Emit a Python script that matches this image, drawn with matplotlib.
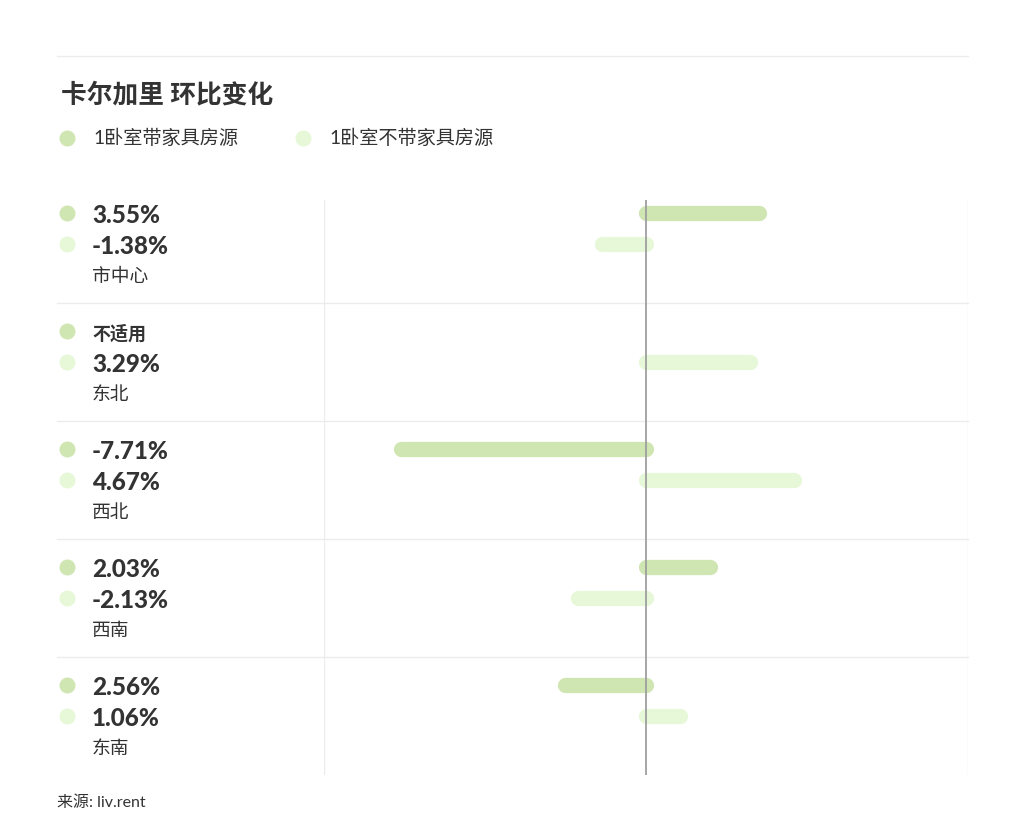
import matplotlib.pyplot as plt
from matplotlib.transforms import blended_transform_factory

plt.rcParams['font.family'] = ['Lato', 'Noto Sans CJK SC', 'DejaVu Sans']

# data
regions = ['市中心', '东北', '西北', '西南', '东南']
series_names = ['1卧室带家具房源', '1卧室不带家具房源']
furnished = [3.55, None, -7.71, 2.03, -2.56]
unfurnished = [-1.38, 3.29, 4.67, -2.13, 1.06]
furnished_labels = ['3.55%', '不适用', '-7.71%', '2.03%', '2.56%']
unfurnished_labels = ['-1.38%', '3.29%', '4.67%', '-2.13%', '1.06%']
colors = ['#d0e6b2', '#e6f8d8']
text_color = '#333333'
grid_color = '#ececec'

W, H = 1024, 836
fig = plt.figure(figsize=(W / 100, H / 100), dpi=100)

# chart area in pixels: x 324..968, y 200..775
ax = fig.add_axes([324 / W, 1 - 775 / H, (968 - 324) / W, (775 - 200) / H])
ax.set_xlim(-10.15, 10.15)
ax.set_ylim(4.763, -0.11)
ax.axis('off')

gap = 31 / 118  # offset of second bar within a row

for i in range(len(regions)):
    vals = [furnished[i], unfurnished[i]]
    for j, v in enumerate(vals):
        if v is None:
            continue
        y = i + j * gap
        ax.plot([0, v], [y, y], color=colors[j], lw=11,
                solid_capstyle='round', zorder=2)

# zero line
ax.axvline(0, color='#9f9f9f', lw=1.3, zorder=3)
# vertical borders
ax.axvline(-10.15, color=grid_color, lw=1, zorder=1)
ax.axvline(10.15, color=grid_color, lw=1, zorder=1)

# row separators, extending into the label area
tr = blended_transform_factory(fig.transFigure, ax.transData)
for i in range(len(regions) - 1):
    yy = i + 0.763
    ax.plot([57 / W, 968 / W], [yy, yy], color=grid_color, lw=1,
            transform=tr, clip_on=False, zorder=1)

# left labels
for i, reg in enumerate(regions):
    labs = [furnished_labels[i], unfurnished_labels[i]]
    for j, lab in enumerate(labs):
        y = i + j * gap
        ax.plot([67 / W], [y], 'o', ms=10.5, color=colors[j],
                transform=tr, clip_on=False)
        if lab == '不适用':
            ax.text(92 / W, y + 0.02, lab, transform=tr, fontsize=13,
                    fontweight='bold', color=text_color, va='center', ha='left')
        else:
            ax.text(92 / W, y + 0.02, lab, transform=tr, fontsize=17.5,
                    fontweight='black', color=text_color, va='center', ha='left')
    ax.text(92 / W, i + 2 * gap + 0.01, reg, transform=tr, fontsize=13.5,
            color=text_color, va='center', ha='left')

# top rule
fig.add_artist(plt.Line2D([57 / W, 968 / W], [1 - 56 / H, 1 - 56 / H],
                          color=grid_color, lw=1))

fig.text(61 / W, 1 - 94 / H, '卡尔加里 环比变化', fontsize=18.5,
         fontweight='bold', color=text_color, va='center', ha='left')

# legend
leg_x = [67, 303]
for k, name in enumerate(series_names):
    fig.add_artist(plt.Line2D([leg_x[k] / W], [1 - 138 / H], marker='o',
                              ms=10.5, color=colors[k], lw=0))
    fig.text((leg_x[k] + 26) / W, 1 - 138 / H, name, fontsize=13.8,
             color=text_color, va='center', ha='left')

fig.text(57 / W, 1 - 803 / H, '来源: liv.rent', fontsize=11.5,
         color=text_color, va='center', ha='left')

fig.savefig('out.png', dpi=100, facecolor='white')
